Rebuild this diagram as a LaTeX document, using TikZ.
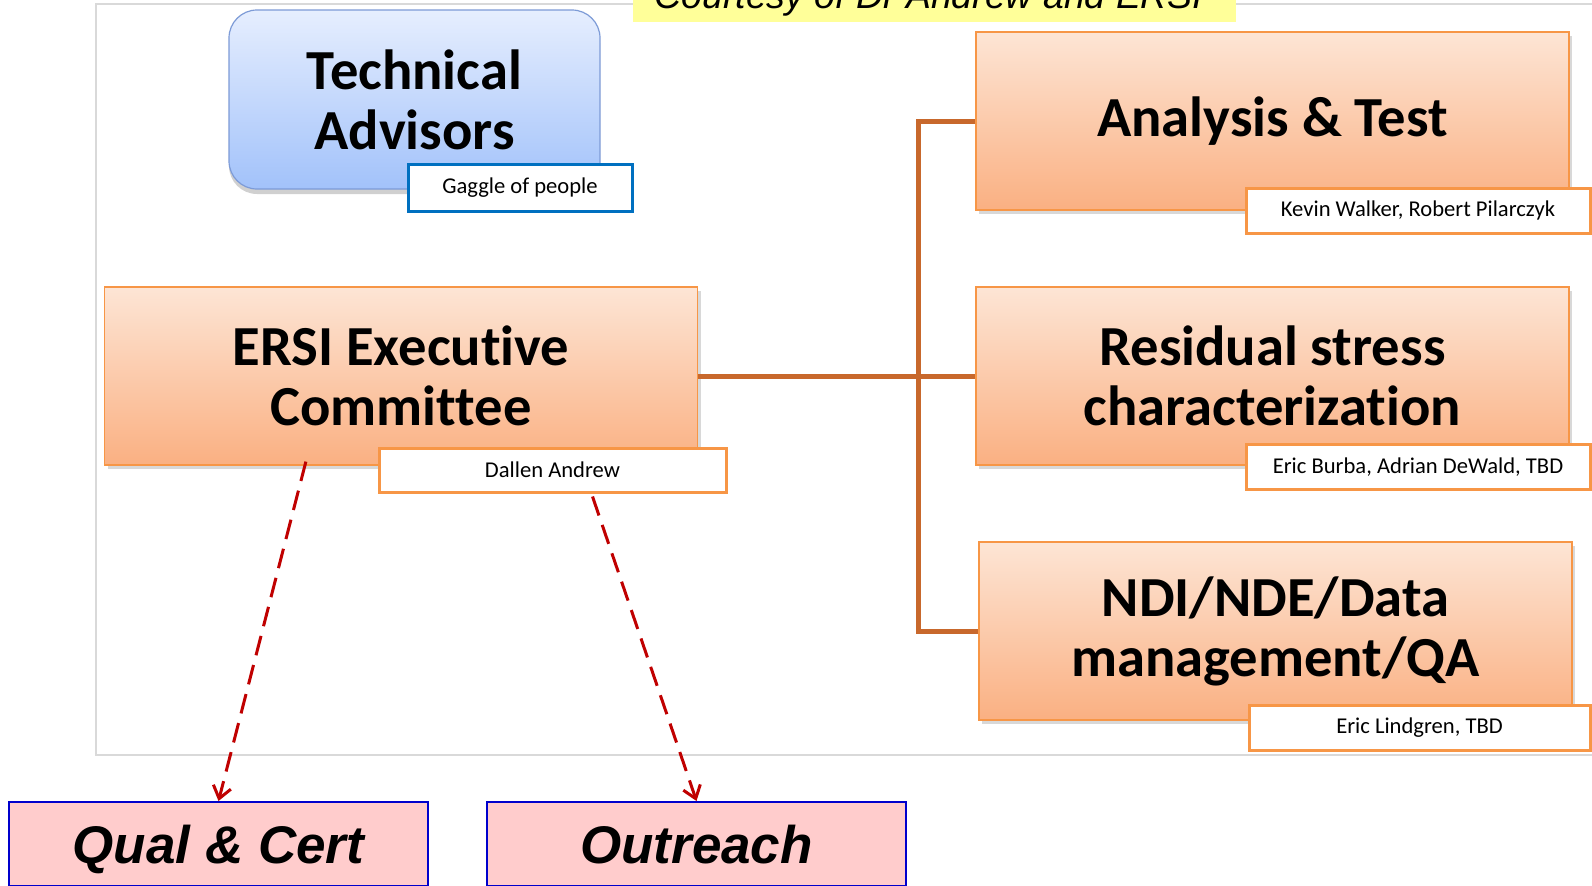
\documentclass[tikz,border=0pt]{standalone}
\usepackage{fontspec}
\setmainfont{Carlito}[Ligatures={NoCommon}]
\newfontfamily\arialf{Liberation Sans}
\usetikzlibrary{arrows.meta,shadows,calc}
\definecolor{otop}{RGB}{253,229,213}
\definecolor{obot}{RGB}{250,176,130}
\definecolor{oline}{RGB}{247,150,70}
\definecolor{btop}{RGB}{230,238,254}
\definecolor{bbot}{RGB}{162,194,250}
\definecolor{bline}{RGB}{125,155,215}
\definecolor{gagline}{RGB}{0,112,192}
\definecolor{connc}{RGB}{200,104,44}
\definecolor{arrc}{RGB}{192,0,0}
\definecolor{pinkf}{RGB}{255,204,204}
\definecolor{bluel}{RGB}{0,0,204}
\definecolor{bannerf}{RGB}{255,255,153}
\definecolor{framec}{RGB}{217,217,217}
\tikzset{
  bigfont/.style={font=\fontsize{28.3}{30}\selectfont\bfseries},
  orangebox/.style={bigfont, draw=oline, line width=0.6pt, top color=otop, bottom color=obot,
    drop shadow={shadow xshift=1.5pt, shadow yshift=-2pt, opacity=0.25, fill=black!60},
    minimum width=296.5pt, minimum height=89pt, align=center, inner sep=0pt},
  bluebox/.style={bigfont, draw=bline, line width=0.6pt, top color=btop, bottom color=bbot,
    rounded corners=14pt,
    drop shadow={shadow xshift=0pt, shadow yshift=-2.5pt, opacity=0.3, fill=black!60},
    minimum width=185.5pt, minimum height=89.5pt, align=center, inner sep=0pt},
  namebox/.style={draw=oline, line width=1.5pt, fill=white, minimum width=172pt,
    minimum height=22.5pt, font=\fontsize{11.3}{13}\selectfont, inner sep=0pt},
  conn/.style={draw=connc, line width=2.5pt, line join=miter},
  dasharr/.style={draw=arrc, line width=1.5pt, dash pattern=on 10pt off 5pt,
    -{Straight Barb[length=6pt,width=9pt,line width=1.5pt]}},
  pinkbox/.style={draw=bluel, line width=1pt, fill=pinkf, minimum width=209.5pt,
    minimum height=42pt, inner sep=0pt, text height=19pt, text depth=0pt,
    font=\arialf\bfseries\itshape\fontsize{26.5}{30}\selectfont}
}
\begin{document}
\begin{tikzpicture}[x=0.5pt,y=-0.5pt]
\useasboundingbox (0,0) rectangle (1592,885);
\clip (0,0) rectangle (1592,885);
\fill[white] (0,0) rectangle (1592,885);
% frame
\draw[framec, line width=1pt] (1600,4) -- (96,4) -- (96,755) -- (1600,755);
% banner
\node[fill=bannerf, minimum width=301.5pt, minimum height=16pt, inner sep=0pt] (banner) at (934.5,5.5) {};
\node[anchor=base, font=\arialf\itshape\fontsize{18.7}{22}\selectfont, inner sep=0pt] (bannertext) at (929,8) {Courtesy of Dr Andrew and ERSI};
% boxes
\node[bluebox] (tech) at (414.5,99.5) {Technical\\Advisors};
\node[namebox, draw=gagline, minimum width=112pt, minimum height=23.5pt] (gaggle) at (520,187.5) {Gaggle of people};
\node[orangebox] (ersi) at (401,376) {ERSI Executive\\Committee};
\node[namebox, minimum width=173.5pt, minimum height=22pt] (dallen) at (552.5,470) {Dallen Andrew};
\node[orangebox] (an) at (1272.5,121) {Analysis \& Test};
\node[namebox] (kevin) at (1418,210.5) {Kevin Walker, Robert Pilarczyk};
\node[orangebox] (res) at (1272.5,376) {Residual stress\\characterization};
\node[namebox] (burba) at (1418,467) {Eric Burba, Adrian DeWald, TBD};
\node[orangebox] (ndi) at (1275.5,631) {NDI/NDE/Data\\management/QA};
\node[namebox, minimum width=170.5pt] (lind) at (1419.5,727.5) {Eric Lindgren, TBD};
% connectors
\coordinate (bus) at (918,376);
\draw[conn] (ersi.east) -- (res.west);
\draw[conn] (an.west) -| (bus) |- (ndi.west);
% bottom boxes
\node[pinkbox] (qual) at (218.5,844) {Qual \& Cert};
\node[pinkbox] (out) at (696.5,844) {Outreach};
% dashed arrows
\draw[dasharr] ($(ersi.south west)+(202,-4)$) -- (qual.north);
\draw[dasharr] ($(dallen.south)+(40,3)$) -- (out.north);
\end{tikzpicture}
\end{document}
